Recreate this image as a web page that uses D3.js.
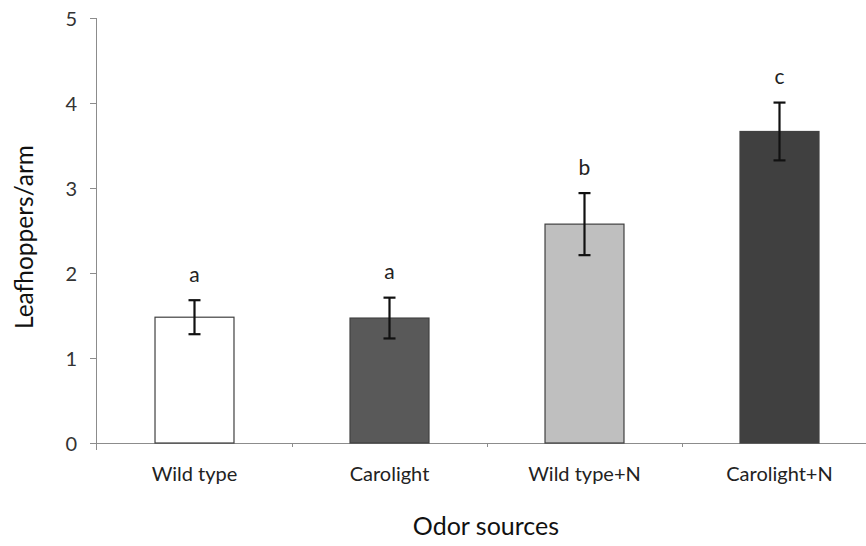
<!DOCTYPE html>
<html>
<head>
<meta charset="utf-8">
<script src="https://cdn.jsdelivr.net/npm/d3@7"></script>
<style>
  body { margin: 0; background: #fff; }
  svg { display: block; font-family: Lato, "Liberation Sans", sans-serif; }
</style>
</head>
<body>
<svg id="chart" width="866" height="546"></svg>
<script>
// --- Data ---
const categories = ["Wild type", "Carolight", "Wild type+N", "Carolight+N"];
const means = [1.48, 1.47, 2.575, 3.665];
const errors = [0.2, 0.24, 0.365, 0.34];
const letters = ["a", "a", "b", "c"];
const fills = ["#ffffff", "#595959", "#bfbfbf", "#404040"];
const yTicks = [0, 1, 2, 3, 4, 5];

// --- Setup ---
const svg = d3.select("#chart");
const plotLeft = 97, plotRight = 877, plotTop = 18, plotBottom = 443;

const x = d3.scaleBand().domain(categories).range([plotLeft, plotRight]).padding(0);
const y = d3.scaleLinear().domain([0, 5]).range([plotBottom, plotTop]);
const barW = x.bandwidth() * 0.405;
const axisColor = "#8c8c8c";
const fontFam = 'Lato, "Liberation Sans", sans-serif';

// y axis
const yAxis = svg.append("g")
    .attr("transform", `translate(${plotLeft},0)`)
    .call(d3.axisLeft(y).tickValues(yTicks).tickSize(7).tickPadding(13).tickFormat(d3.format("d")))
    .attr("font-family", fontFam);
yAxis.select(".domain").attr("stroke", axisColor).attr("d", `M-0.5,${plotTop}V${plotBottom + 7}`);
yAxis.selectAll(".tick line").attr("stroke", axisColor);
yAxis.selectAll(".tick text").attr("fill", "#333").style("font-size", "20px").attr("dy", "0.35em");

// x axis
const xAxis = svg.append("g")
    .attr("transform", `translate(0,${plotBottom})`)
    .call(d3.axisBottom(x).tickSize(0).tickPadding(24))
    .attr("font-family", fontFam);
xAxis.select(".domain").attr("stroke", axisColor).attr("d", `M${plotLeft},0.5H866`);
xAxis.selectAll(".tick text").attr("fill", "#222").style("font-size", "20px");

// small boundary ticks between categories
svg.append("g").selectAll("line")
    .data(categories.slice(1))
    .join("line")
    .attr("x1", d => x(d) + 0.5).attr("x2", d => x(d) + 0.5)
    .attr("y1", plotBottom).attr("y2", plotBottom + 4)
    .attr("stroke", axisColor);

// bars
const cx = d => x(d) + x.bandwidth() / 2;
svg.append("g").selectAll("rect")
    .data(categories)
    .join("rect")
    .attr("x", d => cx(d) - barW / 2)
    .attr("y", (d, i) => y(means[i]))
    .attr("width", barW)
    .attr("height", (d, i) => y(0) - y(means[i]))
    .attr("fill", (d, i) => fills[i])
    .attr("stroke", "#404040")
    .attr("stroke-width", 1.2);

// error bars
const eb = svg.append("g").attr("stroke", "#111").attr("stroke-width", 2.2);
categories.forEach((d, i) => {
    const hi = y(means[i] + errors[i]), lo = y(means[i] - errors[i]);
    eb.append("line").attr("x1", cx(d)).attr("x2", cx(d)).attr("y1", hi).attr("y2", lo);
    eb.append("line").attr("x1", cx(d) - 6).attr("x2", cx(d) + 6).attr("y1", hi).attr("y2", hi);
    eb.append("line").attr("x1", cx(d) - 6).attr("x2", cx(d) + 6).attr("y1", lo).attr("y2", lo);
});

// significance letters
svg.append("g").selectAll("text")
    .data(categories)
    .join("text")
    .attr("x", d => cx(d))
    .attr("y", (d, i) => y(means[i] + errors[i]) - 18.5)
    .attr("text-anchor", "middle")
    .attr("fill", "#222")
    .style("font-size", "21px")
    .text((d, i) => letters[i]);

// axis titles
svg.append("text")
    .attr("transform", "translate(33,237) rotate(-90)")
    .attr("text-anchor", "middle")
    .attr("fill", "#111")
    .style("font-size", "24.5px")
    .text("Leafhoppers/arm");

svg.append("text")
    .attr("x", 486).attr("y", 535)
    .attr("text-anchor", "middle")
    .attr("fill", "#111")
    .style("font-size", "25px")
    .text("Odor sources");
</script>
</body>
</html>
